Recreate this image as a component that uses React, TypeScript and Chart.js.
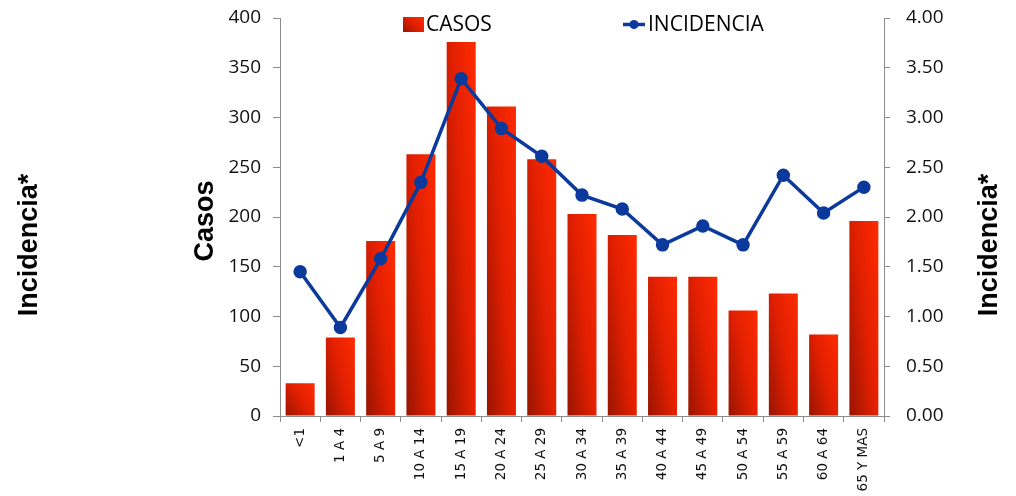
import { useEffect, useRef } from 'react';
import { Chart, registerables } from 'chart.js';

Chart.register(...registerables);

const categories = ['<1', '1 A 4', '5 A 9', '10 A 14', '15 A 19', '20 A 24', '25 A 29', '30 A 34', '35 A 39', '40 A 44', '45 A 49', '50 A 54', '55 A 59', '60 A 64', '65 Y MAS'];
const casos = [33, 79, 176, 263, 376, 311, 258, 203, 182, 140, 140, 106, 123, 82, 196];
const incidencia = [1.45, 0.89, 1.58, 2.35, 3.39, 2.89, 2.61, 2.22, 2.08, 1.72, 1.91, 1.72, 2.42, 2.04, 2.30];
const seriesLabels = ['CASOS', 'INCIDENCIA'];
const leftTitle = 'Casos';
const rightTitle = 'Incidencia*';
const outerTitle = 'Incidencia*';

const BLUE = '#0b3a9c';
const AXIS = '#8c8c8c';

function barGradient(ctx: CanvasRenderingContext2D, L: number, R: number, T: number, B: number) {
  const w = Math.max(R - L, 1);
  const h = Math.max(B - T, 1);
  const a = 0.58;
  const b = 0.42;
  const k = 1 / ((a * a) / (w * w) + (b * b) / (h * h));
  const g = ctx.createLinearGradient(L, B, L + (k * a) / w, B - (k * b) / h);
  g.addColorStop(0, '#981400');
  g.addColorStop(0.5, '#e01f00');
  g.addColorStop(1, '#ff2b00');
  return g;
}

function drawRot(ctx: CanvasRenderingContext2D, text: string, x: number, y: number) {
  ctx.save();
  ctx.translate(x, y);
  ctx.rotate(-Math.PI / 2);
  ctx.textAlign = 'center';
  ctx.textBaseline = 'alphabetic';
  ctx.fillText(text, 0, 0);
  ctx.restore();
}

const decorPlugin = {
  id: 'decor',
  afterDraw(chart: any) {
    const ctx: CanvasRenderingContext2D = chart.ctx;
    ctx.save();
    ctx.fillStyle = '#000';
    ctx.font = 'bold 27px "Liberation Sans", Arial, sans-serif';
    drawRot(ctx, leftTitle, 213, 221);
    drawRot(ctx, rightTitle, 997, 245);
    drawRot(ctx, outerTitle, 37, 245);
    ctx.fillStyle = barGradient(ctx, 403, 424, 17, 32);
    ctx.fillRect(403, 17, 21, 15);
    ctx.fillStyle = '#000';
    ctx.font = '21px "Open Sans", sans-serif';
    ctx.textAlign = 'left';
    ctx.textBaseline = 'alphabetic';
    ctx.fillText(seriesLabels[0], 426, 31);
    ctx.strokeStyle = BLUE;
    ctx.lineWidth = 3.5;
    ctx.beginPath();
    ctx.moveTo(623, 24.5);
    ctx.lineTo(645, 24.5);
    ctx.stroke();
    ctx.fillStyle = BLUE;
    ctx.beginPath();
    ctx.arc(634, 24.5, 4.5, 0, Math.PI * 2);
    ctx.fill();
    ctx.fillStyle = '#000';
    ctx.fillText(seriesLabels[1], 648, 31);
    ctx.restore();
  },
};

export default function App() {
  const ref = useRef<HTMLCanvasElement | null>(null);
  useEffect(() => {
    if (!ref.current) return;
    const chart = new Chart(ref.current, {
      type: 'bar',
      data: {
        labels: categories,
        datasets: [
          {
            type: 'line',
            label: seriesLabels[1],
            data: incidencia,
            yAxisID: 'y1',
            borderColor: BLUE,
            backgroundColor: BLUE,
            borderWidth: 3.5,
            pointRadius: 5,
            pointBackgroundColor: BLUE,
            pointBorderColor: BLUE,
            tension: 0,
            order: 0,
          } as any,
          {
            type: 'bar',
            label: seriesLabels[0],
            data: casos,
            yAxisID: 'y',
            order: 1,
            barPercentage: 0.8,
            categoryPercentage: 0.9,
            backgroundColor: (c: any) => {
              const ch = c.chart;
              const { chartArea, scales } = ch;
              if (!chartArea || c.type !== 'data') return '#e22100';
              const xs = scales.x;
              const ys = scales.y;
              const cx = xs.getPixelForValue(c.dataIndex);
              const bw = (xs.width / categories.length) * 0.72;
              const top = ys.getPixelForValue(c.raw);
              const base = ys.getPixelForValue(0);
              return barGradient(ch.ctx, cx - bw / 2, cx + bw / 2, top, base);
            },
          } as any,
        ],
      },
      options: {
        responsive: false,
        animation: false,
        layout: { padding: { top: 18, left: 0, right: 0, bottom: 0 } },
        plugins: { legend: { display: false }, tooltip: { enabled: false } },
        scales: {
          x: {
            afterFit: (s: any) => { s.height = 80; s.paddingLeft = 0; s.paddingRight = 0; },
            grid: { display: true, drawOnChartArea: false, drawTicks: true, tickLength: 6, color: AXIS, offset: true },
            border: { display: true, color: AXIS },
            ticks: {
              minRotation: 90,
              maxRotation: 90,
              autoSkip: false,
              padding: 6,
              color: '#111',
              font: { family: '"DejaVu Sans", sans-serif', size: 13.5 },
            },
          },
          y: {
            position: 'left',
            min: 0,
            max: 400,
            afterFit: (s: any) => { s.width = 280; s.paddingTop = 0; s.paddingBottom = 0; },
            grid: { display: true, drawOnChartArea: false, drawTicks: true, tickLength: 7, color: AXIS },
            border: { display: true, color: AXIS },
            ticks: {
              stepSize: 50,
              padding: 12,
              color: '#111',
              font: { family: '"Open Sans", sans-serif', size: 19 },
            },
          },
          y1: {
            position: 'right',
            min: 0,
            max: 4,
            afterFit: (s: any) => { s.width = 132; s.paddingTop = 0; s.paddingBottom = 0; },
            grid: { display: true, drawOnChartArea: false, drawTicks: true, tickLength: 6, color: AXIS },
            border: { display: true, color: AXIS },
            ticks: {
              stepSize: 0.5,
              padding: 16,
              color: '#111',
              font: { family: '"Open Sans", sans-serif', size: 19 },
              callback: (v: any) => Number(v).toFixed(2),
            },
          },
        },
      },
      plugins: [decorPlugin],
    });
    return () => chart.destroy();
  }, []);
  return (
    <div style={{ position: 'absolute', left: 0, top: 0, width: 1016, height: 496, background: '#fff' }}>
      <canvas ref={ref} width={1016} height={496} />
    </div>
  );
}
